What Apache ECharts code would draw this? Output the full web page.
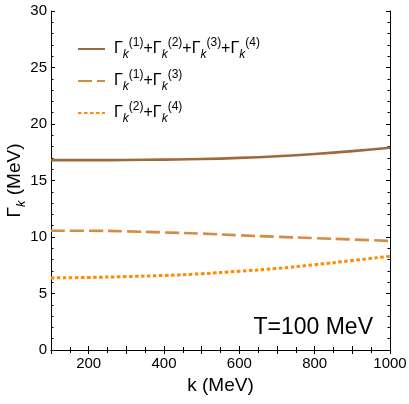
<!DOCTYPE html>
<html>
<head>
<meta charset="utf-8">
<script src="https://cdn.jsdelivr.net/npm/echarts@6/dist/echarts.min.js"></script>
<style>
  html, body { margin: 0; padding: 0; background: #fff; }
  #main { width: 409px; height: 404px; }
</style>
</head>
<body>
<div id="main"></div>
<script>
// k (MeV)
var kValues = [100, 200, 300, 400, 500, 600, 700, 800, 900, 1000];
// Gamma_k (MeV)
var totalWidth = [16.8, 16.8, 16.82, 16.85, 16.9, 17.0, 17.15, 17.35, 17.6, 17.9];
var width13 = [10.55, 10.55, 10.5, 10.4, 10.3, 10.15, 10.02, 9.9, 9.78, 9.65];
var width24 = [6.38, 6.42, 6.5, 6.6, 6.75, 6.97, 7.22, 7.55, 7.92, 8.3];
var xLabelValues = [200, 400, 600, 800, 1000];
var seriesNames = ['total', 'g13', 'g24'];

var FONT = 'Liberation Sans, Arial, sans-serif';

function pairs(ys) {
    var out = [];
    for (var i = 0; i < kValues.length; i++) {
        out.push([kValues[i], ys[i]]);
    }
    return out;
}

// legend labels: Γ_k^(n)
var legendText = {
    total: '{p|}{g|Γ}{s|k}{u|(1)}{g|+Γ}{s|k}{u|(2)}{g|+Γ}{s|k}{u|(3)}{g|+Γ}{s|k}{u|(4)}',
    g13: '{p|}{g|Γ}{s|k}{u|(1)}{g|+Γ}{s|k}{u|(3)}',
    g24: '{p|}{g|Γ}{s|k}{u|(2)}{g|+Γ}{s|k}{u|(4)}'
};

var frameLine = { show: true, lineStyle: { color: '#000', width: 1 } };
var majorTick = { show: true, inside: true, length: 4, lineStyle: { color: '#000' } };

var myChart = echarts.init(document.getElementById('main'));
var option = {
    backgroundColor: '#fff',
    animation: false,
    grid: { left: 51, right: 19, top: 11, bottom: 54, containLabel: false, outerBoundsMode: 'none' },
    legend: {
        left: 77,
        top: 37,
        padding: 0,
        orient: 'vertical',
        itemWidth: 27,
        itemHeight: 14,
        itemGap: 8,
        data: seriesNames,
        itemStyle: { color: 'rgba(0,0,0,0)', borderWidth: 0, opacity: 0 },
        formatter: function (name) { return legendText[name]; },
        textStyle: {
            color: '#000',
            fontFamily: FONT,
            rich: {
                p: { width: 4 },
                g: { fontSize: 16, fontFamily: FONT, color: '#000', lineHeight: 24, verticalAlign: 'middle' },
                s: { fontSize: 12, fontStyle: 'italic', fontFamily: FONT, color: '#000', lineHeight: 24, verticalAlign: 'bottom' },
                u: { fontSize: 12, fontFamily: FONT, color: '#000', lineHeight: 24, verticalAlign: 'top' }
            }
        }
    },
    xAxis: [
        {
            type: 'value',
            position: 'bottom',
            min: 100,
            max: 1000,
            interval: 100,
            name: 'k (MeV)',
            nameLocation: 'middle',
            nameGap: 26,
            nameMoveOverlap: false,
            nameTextStyle: { fontSize: 19, fontFamily: FONT, color: '#000' },
            axisLine: frameLine,
            axisTick: majorTick,
            minorTick: { show: true, splitNumber: 2, length: 3, lineStyle: { color: '#000' } },
            axisLabel: {
                fontSize: 15,
                fontFamily: FONT,
                color: '#000',
                margin: 6,
                formatter: function (v) { return xLabelValues.indexOf(v) >= 0 ? String(v) : ''; }
            },
            splitLine: { show: false }
        },
        {
            type: 'value',
            position: 'top',
            min: 100,
            max: 1000,
            interval: 100,
            axisLine: frameLine,
            axisTick: majorTick,
            minorTick: { show: true, splitNumber: 2, length: 3, lineStyle: { color: '#000' } },
            axisLabel: { show: false },
            splitLine: { show: false }
        }
    ],
    yAxis: [
        {
            type: 'value',
            position: 'left',
            min: 0,
            max: 30,
            interval: 5,
            name: '{g|Γ}{s|k}{g| (MeV)}',
            nameLocation: 'middle',
            nameGap: 23,
            nameMoveOverlap: false,
            nameRotate: 90,
            nameTextStyle: {
                rich: {
                    g: { fontSize: 19, fontFamily: FONT, color: '#000', lineHeight: 26, verticalAlign: 'middle' },
                    s: { fontSize: 13, fontStyle: 'italic', fontFamily: FONT, color: '#000', lineHeight: 26, verticalAlign: 'bottom' }
                }
            },
            axisLine: frameLine,
            axisTick: majorTick,
            minorTick: { show: true, splitNumber: 5, length: 2.5, lineStyle: { color: '#000' } },
            axisLabel: { fontSize: 15, fontFamily: FONT, color: '#000', margin: 4 },
            splitLine: { show: false }
        },
        {
            type: 'value',
            position: 'right',
            min: 0,
            max: 30,
            interval: 5,
            axisLine: frameLine,
            axisTick: majorTick,
            minorTick: { show: true, splitNumber: 5, length: 2.5, lineStyle: { color: '#000' } },
            axisLabel: { show: false },
            splitLine: { show: false }
        }
    ],
    graphic: [
        {
            type: 'text',
            right: 36,
            top: 316,
            style: { text: 'T=100 MeV', fontSize: 23, fontFamily: FONT, fill: '#000' }
        }
    ],
    series: [
        {
            name: 'total',
            type: 'line',
            smooth: true,
            symbol: 'none',
            data: pairs(totalWidth),
            itemStyle: { color: '#9f6a3b' },
            lineStyle: { color: '#9f6a3b', width: 2.6, type: 'solid' }
        },
        {
            name: 'g13',
            type: 'line',
            smooth: true,
            symbol: 'none',
            data: pairs(width13),
            itemStyle: { color: '#d68b43' },
            lineStyle: { color: '#d68b43', width: 2.6, type: [14, 5] }
        },
        {
            name: 'g24',
            type: 'line',
            smooth: true,
            symbol: 'none',
            data: pairs(width24),
            itemStyle: { color: '#ff8c00' },
            lineStyle: { color: '#ff8c00', width: 3, type: [3.5, 2.5] }
        },
        {
            // invisible copy bound to the mirrored (top/right) axes so their ticks render
            name: 'mirror',
            type: 'line',
            xAxisIndex: 1,
            yAxisIndex: 1,
            silent: true,
            symbol: 'none',
            data: pairs(totalWidth),
            lineStyle: { opacity: 0 }
        }
    ]
};
myChart.setOption(option);
</script>
</body>
</html>
